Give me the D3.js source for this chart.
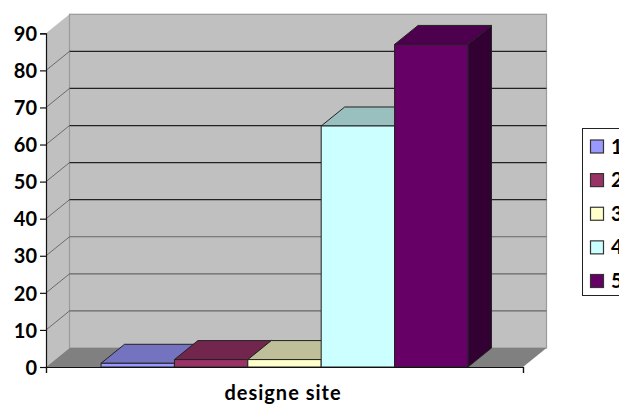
<!DOCTYPE html>
<html>
<head>
<meta charset="utf-8">
<script src="https://cdn.jsdelivr.net/npm/d3@7/dist/d3.min.js"></script>
<style>
html,body{margin:0;padding:0;background:#fff;overflow:hidden}
svg{display:block}
text{font-family:Lato,"Open Sans",sans-serif;font-weight:700;fill:#000}
</style>
</head>
<body>
<svg id="c" width="619" height="405"></svg>
<script>
const series = ["1","2","3","4","5"];
const values = [1,2,2,65,87];
const category = "designe site";
const tickValues = [0,10,20,30,40,50,60,70,80,90];
const frontColors = ["#9999ff","#993366","#ffffcc","#ccffff","#660066"];
const topColors   = ["#7373bf","#73264d","#bfbf99","#99bfbf","#4d004d"];
const sideColors  = ["#4d4d80","#4d1a33","#808066","#668080","#330033"];

const svg = d3.select("#c");
const depthX = 23.5, depthY = -19;
const x = d3.scaleBand().domain(series).range([46,523]).paddingInner(0).paddingOuter(0.75);
const y = d3.scaleLinear().domain([0,90]).range([367,33.3]);
const poly = pts => pts.map(p=>p.join(",")).join(" ");
const chart = svg.append("g").style("filter","blur(0.4px)");

// walls and floor
const x0=x.range()[0], x1=x.range()[1], y0=y(0), yT=y(90);
chart.append("polygon").attr("points",poly([[x0,y0],[x0+depthX,y0+depthY],[x0+depthX,yT+depthY],[x0,yT]]))
  .attr("fill","#c0c0c0");
chart.append("rect").attr("x",x0+depthX).attr("y",yT+depthY).attr("width",x1-x0).attr("height",y0-yT)
  .attr("fill","#c0c0c0").attr("stroke","#9a9a9a").attr("stroke-width",1.2);
chart.append("polygon").attr("points",poly([[x0,y0],[x0+depthX,y0+depthY],[x1+depthX,y0+depthY],[x1,y0]]))
  .attr("fill","#808080");

// gridlines
tickValues.filter(v=>v>0 && v<90).forEach(v=>{
  const col = v>=40 ? "#222" : "#666";
  chart.append("line").attr("stroke",col).attr("stroke-width",v>=40?1.3:1.1)
    .attr("x1",x0+depthX).attr("x2",x1+depthX).attr("y1",y(v)+depthY).attr("y2",y(v)+depthY);
  chart.append("line").attr("stroke","#555").attr("stroke-width",0.8)
    .attr("x1",x0).attr("x2",x0+depthX).attr("y1",y(v)).attr("y2",y(v)+depthY);
});

// 3D bars
series.forEach((s,i)=>{
  const bx=x(s), bw=x.bandwidth(), by=y(values[i]);
  const g=chart.append("g").attr("stroke","#222").attr("stroke-width",1).attr("stroke-linejoin","round");
  g.append("polygon").attr("fill",sideColors[i])
    .attr("points",poly([[bx+bw,by],[bx+bw+depthX,by+depthY],[bx+bw+depthX,y0+depthY],[bx+bw,y0]]));
  g.append("polygon").attr("fill",topColors[i])
    .attr("points",poly([[bx,by],[bx+depthX,by+depthY],[bx+bw+depthX,by+depthY],[bx+bw,by]]));
  g.append("rect").attr("x",bx).attr("y",by).attr("width",bw).attr("height",y0-by).attr("fill",frontColors[i]);
});

// axes
const yAxis = d3.axisLeft(y).tickValues(tickValues).tickSize(6).tickPadding(3);
const ya = svg.append("g").attr("transform",`translate(${x0},0)`).call(yAxis);
ya.selectAll("text").style("font-size","20px").attr("dy","0.36em");
ya.selectAll("line,path").attr("stroke","#111").attr("stroke-width",1.2);
const xa = d3.axisBottom(d3.scaleLinear().domain([0,1]).range([x0,x1])).tickValues([0,1]).tickSize(6).tickFormat("");
const xg = svg.append("g").attr("transform",`translate(0,${y0})`).call(xa);
xg.selectAll("line,path").attr("stroke","#111").attr("stroke-width",1.2);
svg.append("text").attr("x",283).attr("y",400).attr("text-anchor","middle")
  .style("font-size","20px").style("letter-spacing","1px").text(category);

// legend
const ly = d3.scalePoint().domain(series).range([146.5,281]);
svg.append("rect").attr("x",582.5).attr("y",128.5).attr("width",60).attr("height",167)
  .attr("fill","#fff").attr("stroke","#222").attr("stroke-width",1);
series.forEach((s,i)=>{
  svg.append("rect").attr("x",590.5).attr("y",ly(s)-6.5).attr("width",13).attr("height",13)
    .attr("fill",frontColors[i]).attr("stroke","#333").attr("stroke-width",1.2);
  svg.append("text").attr("x",611).attr("y",ly(s)+7).style("font-size","20px").text(s);
});
</script>
</body>
</html>
